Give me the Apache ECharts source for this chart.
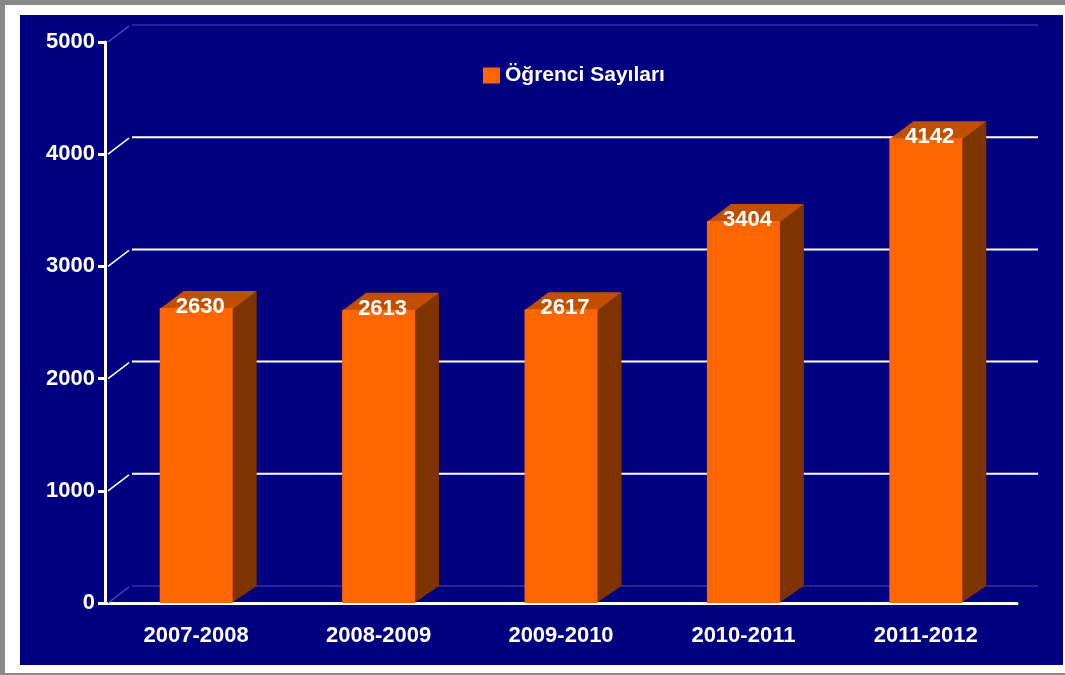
<!DOCTYPE html>
<html>
<head>
<meta charset="utf-8">
<script src="https://cdn.jsdelivr.net/npm/echarts@6/dist/echarts.min.js"></script>
<style>
  html, body { margin: 0; padding: 0; background: #fff; }
  .frame { position: absolute; left: 0; top: 0; width: 1070px; height: 668px; border-top: 5px solid #888; border-left: 5px solid #888; border-bottom: 2px solid #888; }
  .navy { position: absolute; left: 20px; top: 15px; width: 1043px; height: 650px; background: #000080; }
  #chart { position: absolute; left: 0; top: 0; width: 1065px; height: 675px; }
</style>
</head>
<body>
<div class="frame"></div>
<div class="navy"></div>
<div id="chart"></div>
<script>
  const years = ['2007-2008', '2008-2009', '2009-2010', '2010-2011', '2011-2012']
  const students = [2630, 2613, 2617, 3404, 4142]
  const yTicks = [0, 1000, 2000, 3000, 4000, 5000]

  const font = "'Liberation Sans', Arial, sans-serif"
  const depthX = 24
  const depthY = -17

  let myChart = echarts.init(document.getElementById('chart'))

  // back wall: gridlines pushed back by the 3d depth
  function renderWall (params, api) {
    let v = api.value(1)
    let pt = api.coord([0, v])
    let band = api.size([1, 0])[0]
    let x0 = pt[0] - band / 2
    let y = pt[1]
    let edge = (v === 0 || v === 5000)
    let color = edge ? '#4b4bb8' : '#ffffff'
    let width = edge ? 1 : 2
    return {
      type: 'group',
      children: [
        {
          type: 'line',
          shape: {x1: x0 + 3, y1: y, x2: x0 + depthX, y2: y + depthY + 1},
          style: {stroke: color, lineWidth: 1.5}
        },
        {
          type: 'line',
          shape: {x1: x0 + 27, y1: y + depthY, x2: x0 + band * 5 + 21, y2: y + depthY},
          style: {stroke: color, lineWidth: width}
        }
      ]
    }
  }

  function renderBar (params, api) {
    let top = api.coord([api.value(0), api.value(1)])
    let base = api.coord([api.value(0), 0])
    let w = api.size([1, 0])[0] * 0.4
    let x1 = top[0] - w / 2
    let x2 = top[0] + w / 2
    let yt = top[1]
    let yb = base[1]
    return {
      type: 'group',
      children: [
        {
          type: 'polygon',
          shape: {points: [[x2 - 1, yt], [x2 + depthX, yt + depthY], [x2 + depthX, yb + depthY], [x2 - 1, yb]]},
          style: {fill: '#7f3300'}
        },
        {
          type: 'polygon',
          shape: {points: [[x1, yt + 1], [x1 + depthX, yt + depthY], [x2 + depthX, yt + depthY], [x2, yt + 1]]},
          style: {fill: '#c04f00'}
        },
        {
          type: 'rect',
          shape: {x: x1, y: yt, width: w, height: yb - yt},
          style: {fill: '#ff6600'}
        },
        {
          type: 'text',
          x: top[0] + 4,
          y: yt - 1,
          style: {
            text: String(api.value(1)),
            fill: '#ffffff',
            font: 'bold 22px ' + font,
            align: 'center',
            verticalAlign: 'middle'
          }
        }
      ]
    }
  }

  let option = {
    backgroundColor: 'transparent',
    animation: false,
    legend: {
      data: ['Öğrenci Sayıları'],
      left: 478,
      top: 60,
      icon: 'rect',
      itemWidth: 17,
      itemHeight: 16,
      itemGap: 6,
      textStyle: {color: '#ffffff', fontSize: 21, fontWeight: 'bold', fontFamily: font}
    },
    grid: {left: 105, right: 48, top: 42, bottom: 72},
    xAxis: {
      type: 'category',
      data: years,
      axisLine: {lineStyle: {color: '#ffffff', width: 3}},
      axisTick: {length: 9, lineStyle: {color: '#ffffff', width: 3}},
      axisLabel: {color: '#ffffff', fontSize: 22, fontWeight: 'bold', fontFamily: font, margin: 22}
    },
    yAxis: {
      type: 'value',
      min: 0,
      max: 5000,
      interval: 1000,
      axisLine: {show: true, lineStyle: {color: '#ffffff', width: 3}},
      axisTick: {show: true, length: 7, lineStyle: {color: '#ffffff', width: 3}},
      axisLabel: {color: '#ffffff', fontSize: 22, fontWeight: 'bold', fontFamily: font, margin: 10, formatter: v => String(v)},
      splitLine: {show: false}
    },
    series: [
      {
        name: 'wall',
        type: 'custom',
        renderItem: renderWall,
        data: yTicks.map(v => [0, v]),
        silent: true,
        z: 1
      },
      {
        name: 'Öğrenci Sayıları',
        type: 'custom',
        renderItem: renderBar,
        itemStyle: {color: '#ff6600'},
        data: students.map((v, i) => [i, v]),
        z: 3
      }
    ]
  }
  myChart.setOption(option)
</script>
</body>
</html>
